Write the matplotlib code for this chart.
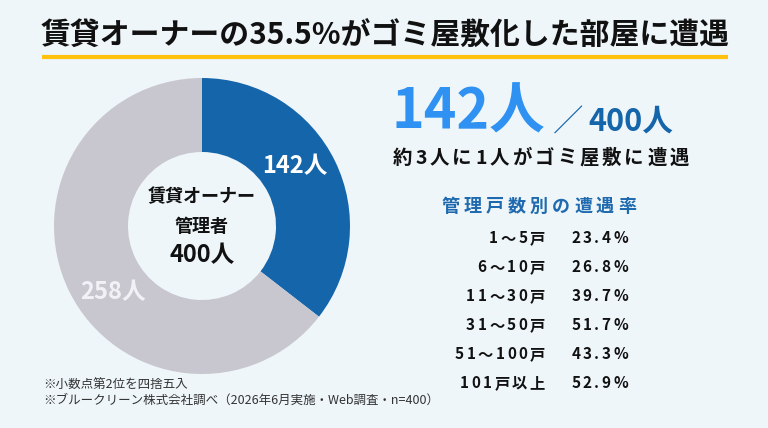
import numpy as np
import matplotlib
matplotlib.use('Agg')
import matplotlib.pyplot as plt

plt.rcParams['font.family'] = ['Noto Sans CJK JP', 'DejaVu Sans']

# データ
title = '賃貸オーナーの35.5%がゴミ屋敷化した部屋に遭遇'
pie_labels = ['142人', '258人']
pie_values = [142, 258]
total_label = '400人'
center_lines = ['賃貸オーナー', '管理者']
headline_num = '142人'
headline_total = '／400人'
subline = '約3人に1人がゴミ屋敷に遭遇'
table_title = '管理戸数別の遭遇率'
unit_ranges = ['1～5戸', '6～10戸', '11～30戸', '31～50戸', '51～100戸', '101戸以上']
encounter_rates = [23.4, 26.8, 39.7, 51.7, 43.3, 52.9]
notes = ['※小数点第2位を四捨五入',
         '※ブルークリーン株式会社調べ（2026年6月実施・Web調査・n=400）']

BG = '#EEF6FA'
BLUE_DARK = '#1565AA'
BLUE_LIGHT = '#2F92F2'
GRAY = '#C8C7CF'

W, H = 768, 428
fig = plt.figure(figsize=(W / 100, H / 100), dpi=100, facecolor=BG)

# 文字配置用のピクセル座標軸
ov = fig.add_axes([0, 0, 1, 1])
ov.set_xlim(0, W)
ov.set_ylim(H, 0)
ov.axis('off')
ov.set_zorder(2)

renderer = fig.canvas.get_renderer()


def spaced_text(x, y, s, spacing, ha='left', **kw):
    """文字間隔つきテキスト（1文字ずつ配置）"""
    widths = []
    for ch in s:
        t = ov.text(0, 0, ch, **kw)
        widths.append(t.get_window_extent(renderer).width)
        t.remove()
    total = sum(widths) + spacing * (len(s) - 1)
    if ha == 'right':
        x0 = x - total
    elif ha == 'center':
        x0 = x - total / 2
    else:
        x0 = x
    for ch, w in zip(s, widths):
        ov.text(x0, y, ch, ha='left', va='center', **kw)
        x0 += w + spacing


# タイトル
ov.text(385, 36, title, ha='center', va='center', fontsize=21.5,
        fontweight='bold', color='#111111')
ov.plot([42, 728], [57, 57], color='#FFC20E', lw=3, solid_capstyle='butt')

# ドーナツ
cx, cy, r = 202, 226, 148
pax = fig.add_axes([(cx - r) / W, (H - cy - r) / H, 2 * r / W, 2 * r / H])
pax.pie(pie_values, colors=[BLUE_DARK, GRAY], startangle=90, counterclock=False,
        wedgeprops=dict(width=0.5, edgecolor='none'))
pax.set_xlim(-1, 1)
pax.set_ylim(-1, 1)
pax.set_aspect('equal')
pax.axis('off')

ov.text(295, 166, pie_labels[0], ha='center', va='center', fontsize=17,
        fontweight='bold', color='white')
ov.text(113, 292, pie_labels[1], ha='center', va='center', fontsize=17,
        fontweight='bold', color='#F2F2F6')
ov.text(202, 197, center_lines[0], ha='center', va='center', fontsize=13,
        fontweight='bold', color='#111111')
ov.text(202, 226, center_lines[1], ha='center', va='center', fontsize=13,
        fontweight='bold', color='#111111')
ov.text(202, 255, total_label, ha='center', va='center', fontsize=17,
        fontweight='bold', color='#111111')

# 右側
ov.text(392, 112, headline_num, ha='left', va='center', fontsize=40,
        fontweight='bold', color=BLUE_LIGHT)
ov.text(553, 122, headline_total[0], ha='left', va='center', fontsize=22,
        fontweight='light', color=BLUE_DARK)
ov.text(588, 122, headline_total[1:], ha='left', va='center', fontsize=22,
        fontweight='bold', color=BLUE_DARK)
spaced_text(393, 158, subline, 3, fontsize=14, fontweight='bold', color='#111111')

spaced_text(442, 206, table_title, 4, fontsize=13, fontweight='bold', color='#1F6AAE')
row_y = [238, 267, 296, 325, 354, 383]
for y, lab, v in zip(row_y, unit_ranges, encounter_rates):
    spaced_text(545, y, lab, 2.5, ha='right', fontsize=11, fontweight='bold', color='#111111')
    spaced_text(628, y, f'{v:.1f}%', 2.5, ha='right', fontsize=11, fontweight='bold',
                color='#111111')

# 注記
ov.text(43, 385, notes[0], ha='left', va='center', fontsize=9, color='#333333')
ov.text(43, 400, notes[1], ha='left', va='center', fontsize=9, color='#333333')

fig.savefig('out.png', dpi=100, facecolor=BG)
